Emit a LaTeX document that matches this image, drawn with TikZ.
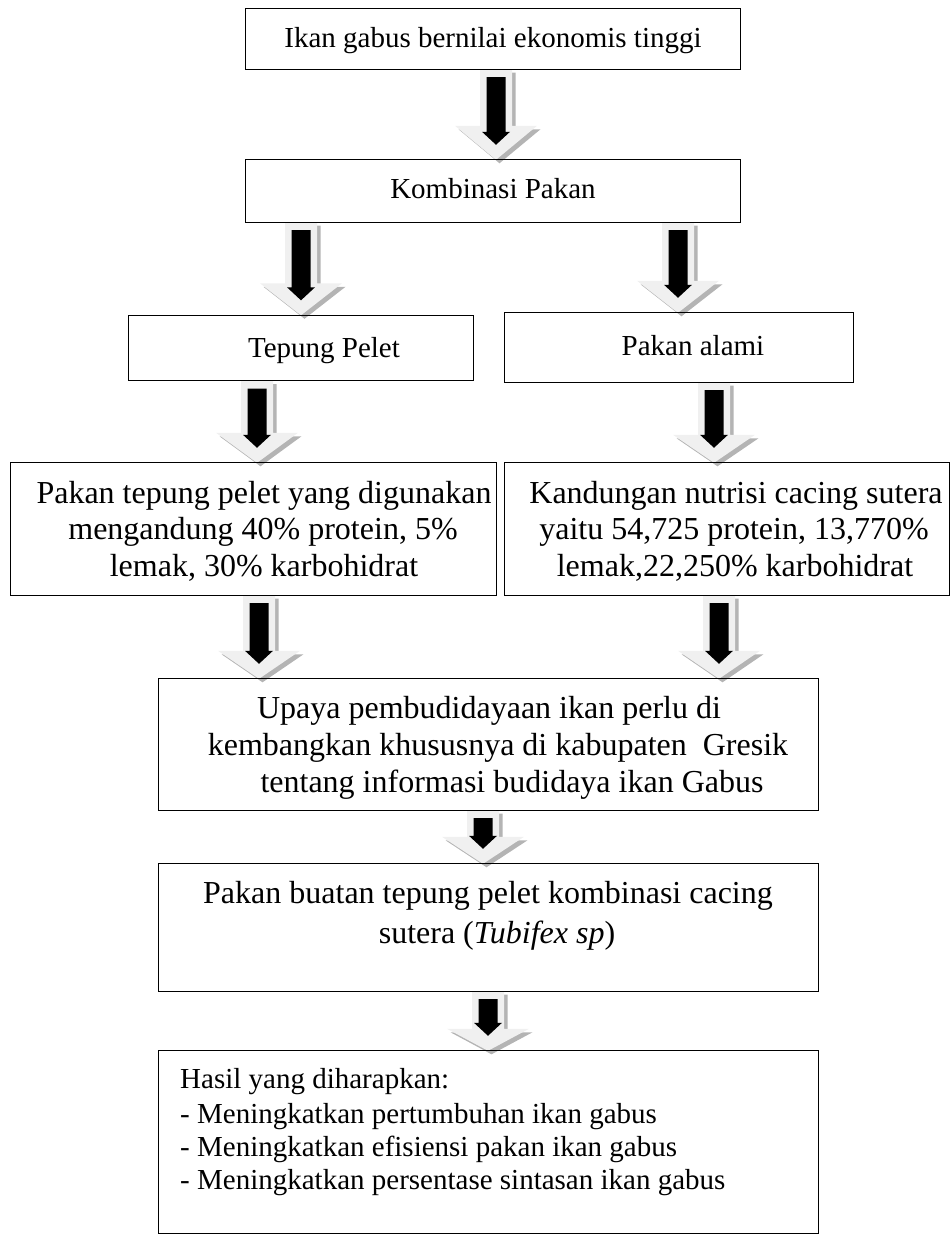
\documentclass[tikz,border=0pt]{standalone}
\usepackage{fontspec}
\setmainfont{Liberation Serif}
\usetikzlibrary{calc}
\definecolor{arrlightc}{HTML}{F0F0F0}
\definecolor{arrshadec}{HTML}{B4B4B4}
\tikzset{
  box/.style={draw=black, line width=1.3bp, inner sep=0pt, rectangle},
  tsmall/.style={font=\fontsize{29bp}{34bp}\selectfont, anchor=base, inner sep=0pt},
  tbig/.style={font=\fontsize{32bp}{37bp}\selectfont, anchor=base, inner sep=0pt},
  tleft/.style={font=\fontsize{29bp}{34bp}\selectfont, anchor=base west, inner sep=0pt},
}
\newcommand\barrow[3]{% #1 start, #2 tip, #3 head length
  \fill[arrshadec] let \p1=#1, \p2=#2 in
    (\x1-12.5bp,\y1-3.5bp) -- (\x1+19.5bp,\y1-3.5bp) -- (\x1+19.5bp,\y2+#3bp-3.5bp)
    -- (\x1+44.5bp,\y2+#3bp-3.5bp) -- (\x1+3.5bp,\y2-3.5bp) -- (\x1-37.5bp,\y2+#3bp-3.5bp)
    -- (\x1-12.5bp,\y2+#3bp-3.5bp) -- cycle;
  \fill[arrlightc] let \p1=#1, \p2=#2 in
    (\x1-16bp,\y1) -- (\x1+16bp,\y1) -- (\x1+16bp,\y2+#3bp)
    -- (\x1+41bp,\y2+#3bp) -- (\x1,\y2) -- (\x1-41bp,\y2+#3bp)
    -- (\x1-16bp,\y2+#3bp) -- cycle;
  \fill[black] let \p1=#1, \p2=#2 in
    (\x1-9.5bp,\y1-8bp) -- (\x1+9.5bp,\y1-8bp) -- (\x1+9.5bp,\y2+28bp)
    -- (\x1+14bp,\y2+28bp) -- (\x1,\y2+15bp) -- (\x1-14bp,\y2+28bp)
    -- (\x1-9.5bp,\y2+28bp) -- cycle;
}
\begin{document}
\begin{tikzpicture}[x=1bp,y=-1bp]
\useasboundingbox (0,0) rectangle (951,1236);
% boxes (geometry only, drawn later on top)
\path
  (493,39) node[minimum width=494bp, minimum height=60bp, inner sep=0pt] (b1) {}
  (493,191) node[minimum width=494bp, minimum height=62bp, inner sep=0pt] (b2) {}
  (301,348) node[minimum width=344bp, minimum height=65bp, inner sep=0pt] (b3) {}
  (679,347.5) node[minimum width=348bp, minimum height=69bp, inner sep=0pt] (b4) {}
  (253.5,529) node[minimum width=485bp, minimum height=132bp, inner sep=0pt] (b5) {}
  (727,529) node[minimum width=444bp, minimum height=132bp, inner sep=0pt] (b6) {}
  (488.5,744.5) node[minimum width=659bp, minimum height=131bp, inner sep=0pt] (b7) {}
  (488.5,927.5) node[minimum width=659bp, minimum height=127bp, inner sep=0pt] (b8) {}
  (488.5,1142) node[minimum width=659bp, minimum height=182bp, inner sep=0pt] (b9) {};
% arrow axes
\coordinate (a1) at (496,0);
\coordinate (a2l) at (301,0);
\coordinate (a2r) at (678,0);
\coordinate (a3l) at (257,0);
\coordinate (a3r) at (714,0);
\coordinate (a4l) at (259,0);
\coordinate (a4r) at (719,0);
\coordinate (a5) at (483,0);
\coordinate (a6) at (488,0);
% arrows
\barrow{(b1.south -| a1)}{(b2.north -| a1)}{34}
\barrow{(b2.south -| a2l)}{(b3.north -| a2l)}{32}
\barrow{(b2.south -| a2r)}{(b4.north -| a2r)}{32}
\barrow{(b3.south -| a3l)}{(b5.north -| a3l)}{30}
\barrow{(b4.south -| a3r)}{(b6.north -| a3r)}{28}
\barrow{(b5.south -| a4l)}{(b7.north -| a4l)}{28}
\barrow{(b6.south -| a4r)}{(b7.north -| a4r)}{28}
\barrow{(b7.south -| a5)}{(b8.north -| a5)}{27}
\barrow{(b8.south -| a6)}{(b9.north -| a6)}{22}
% box outlines
\foreach \b in {b1,b2,b3,b4,b5,b6,b7,b8,b9}
  \draw[box] (\b.south west) rectangle (\b.north east);
% texts
\node[tsmall] (t1) at (493,47) {Ikan gabus bernilai ekonomis tinggi};
\node[tsmall] (t2) at (493,198) {Kombinasi Pakan};
\node[tsmall] (t3) at (324,357) {Tepung Pelet};
\node[tsmall] (t4) at (693,355) {Pakan alami};
\node[tbig] (t5a) at (264,503) {Pakan tepung pelet yang digunakan};
\node[tbig] (t5b) at (263,539) {mengandung 40\% protein, 5\%};
\node[tbig] (t5c) at (264,576) {lemak, 30\% karbohidrat};
\node[tbig] (t6a) at (736,503) {Kandungan nutrisi cacing sutera};
\node[tbig] (t6b) at (734,539) {yaitu 54,725 protein, 13,770\%};
\node[tbig] (t6c) at (735,576) {lemak,22,250\% karbohidrat};
\node[tbig] (t7a) at (489,718) {Upaya pembudidayaan ikan perlu di};
\node[tbig] (t7b) at (498,755) {kembangkan khususnya di kabupaten\ \ Gresik};
\node[tbig] (t7c) at (512,792) {tentang informasi budidaya ikan Gabus};
\node[tbig] (t8a) at (488,903) {Pakan buatan tepung pelet kombinasi cacing};
\node[tbig] (t8b) at (497,943) {sutera (\textit{Tubifex sp})};
\node[tleft] (t9a) at (180,1088) {Hasil yang diharapkan:};
\node[tleft] (t9b) at (180,1123) {- Meningkatkan pertumbuhan ikan gabus};
\node[tleft] (t9c) at (180,1156) {- Meningkatkan efisiensi pakan ikan gabus};
\node[tleft] (t9d) at (180,1189) {- Meningkatkan persentase sintasan ikan gabus};
\end{tikzpicture}
\end{document}
